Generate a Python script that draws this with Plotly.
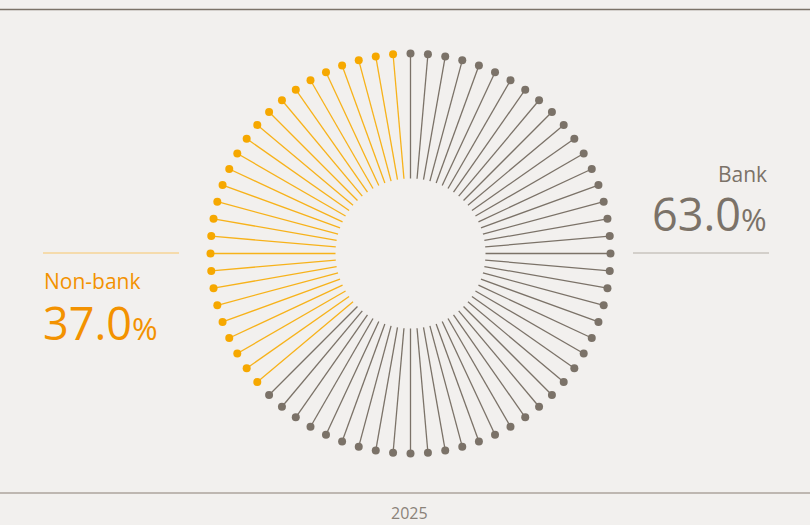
import plotly.graph_objects as go

# ---- data ----
categories = ["Bank", "Non-bank"]
shares = [63.0, 37.0]          # percent
year_label = "2025"
n_spokes = 72

# ---- style ----
BG = "#f2f0ee"
GRAY = "#7b7268"
ORANGE_DOT = "#f6a800"
ORANGE_LINE = "#f7b21a"
ORANGE_TEXT = "#f39200"
FONT = "Open Sans"

inner_r, outer_r = 0.375, 1.0

# assign spokes to categories by cumulative share
step = 360 / n_spokes
groups = {c: [] for c in categories}
for i in range(n_spokes):
    frac = i / n_spokes * 100
    cat = categories[0] if frac < shares[0] else categories[1]
    groups[cat].append(i * step)

colors_line = {categories[0]: GRAY, categories[1]: ORANGE_LINE}
colors_dot = {categories[0]: GRAY, categories[1]: ORANGE_DOT}

fig = go.Figure()
for cat in categories:
    r, th = [], []
    for a in groups[cat]:
        r += [inner_r, outer_r, None]
        th += [a, a, None]
    fig.add_trace(go.Scatterpolar(r=r, theta=th, mode="lines",
                                  line=dict(color=colors_line[cat], width=1.3),
                                  hoverinfo="skip", showlegend=False, cliponaxis=False))
    fig.add_trace(go.Scatterpolar(r=[outer_r] * len(groups[cat]), theta=groups[cat], mode="markers",
                                  marker=dict(color=colors_dot[cat], size=8, line=dict(width=0)),
                                  name=cat, showlegend=False, cliponaxis=False))

W, H = 810, 525
cx, cy, R = 410.5, 253.5, 210
fig.update_layout(
    width=W, height=H, autosize=False,
    margin=dict(l=0, r=0, t=0, b=0),
    paper_bgcolor=BG, plot_bgcolor=BG,
    font=dict(family=FONT, color=GRAY),
    polar=dict(
        domain=dict(x=[(cx - R) / W, (cx + R) / W], y=[(H - cy - R) / H, (H - cy + R) / H]),
        bgcolor="rgba(0,0,0,0)",
        radialaxis=dict(visible=False, range=[0, 1.05]),
        angularaxis=dict(visible=False, rotation=90, direction="clockwise"),
    ),
    shapes=[
        dict(type="line", xref="paper", yref="paper", x0=0, x1=1, y0=1 - 9.5 / H, y1=1 - 9.5 / H,
             line=dict(color=GRAY, width=1.3)),
        dict(type="line", xref="paper", yref="paper", x0=0, x1=1, y0=1 - 493 / H, y1=1 - 493 / H,
             line=dict(color="#aca59d", width=1.3)),
        dict(type="line", xref="paper", yref="paper", x0=633 / W, x1=769 / W, y0=1 - 253 / H, y1=1 - 253 / H,
             line=dict(color="#b3ada6", width=1.2)),
        dict(type="line", xref="paper", yref="paper", x0=43 / W, x1=179 / W, y0=1 - 253 / H, y1=1 - 253 / H,
             line=dict(color="#f7c56a", width=1.2)),
    ],
    annotations=[
        dict(text=categories[0], xref="paper", yref="paper", x=769 / W, y=1 - 190 / H,
             xanchor="right", yanchor="bottom", showarrow=False,
             font=dict(size=21, color=GRAY, family=FONT)),
        dict(text=f"{shares[0]:.1f}<span style='font-size:31px'>%</span>", xref="paper", yref="paper",
             x=769 / W, y=1 - 246 / H, xanchor="right", yanchor="bottom", showarrow=False,
             font=dict(size=45, color=GRAY, family=FONT)),
        dict(text=categories[1], xref="paper", yref="paper", x=42 / W, y=1 - 265 / H,
             xanchor="left", yanchor="top", showarrow=False,
             font=dict(size=21, color=ORANGE_TEXT, family=FONT)),
        dict(text=f"{shares[1]:.1f}<span style='font-size:31px'>%</span>", xref="paper", yref="paper",
             x=41 / W, y=1 - 290 / H, xanchor="left", yanchor="top", showarrow=False,
             font=dict(size=45, color=ORANGE_TEXT, family=FONT)),
        dict(text=year_label, xref="paper", yref="paper", x=409 / W, y=1 - 500 / H,
             xanchor="center", yanchor="top", showarrow=False,
             font=dict(size=16, color="#8a8279", family=FONT)),
    ],
)

fig.write_html("out.html", config={"displayModeBar": False},
               post_script="document.body.style.margin='0';")
